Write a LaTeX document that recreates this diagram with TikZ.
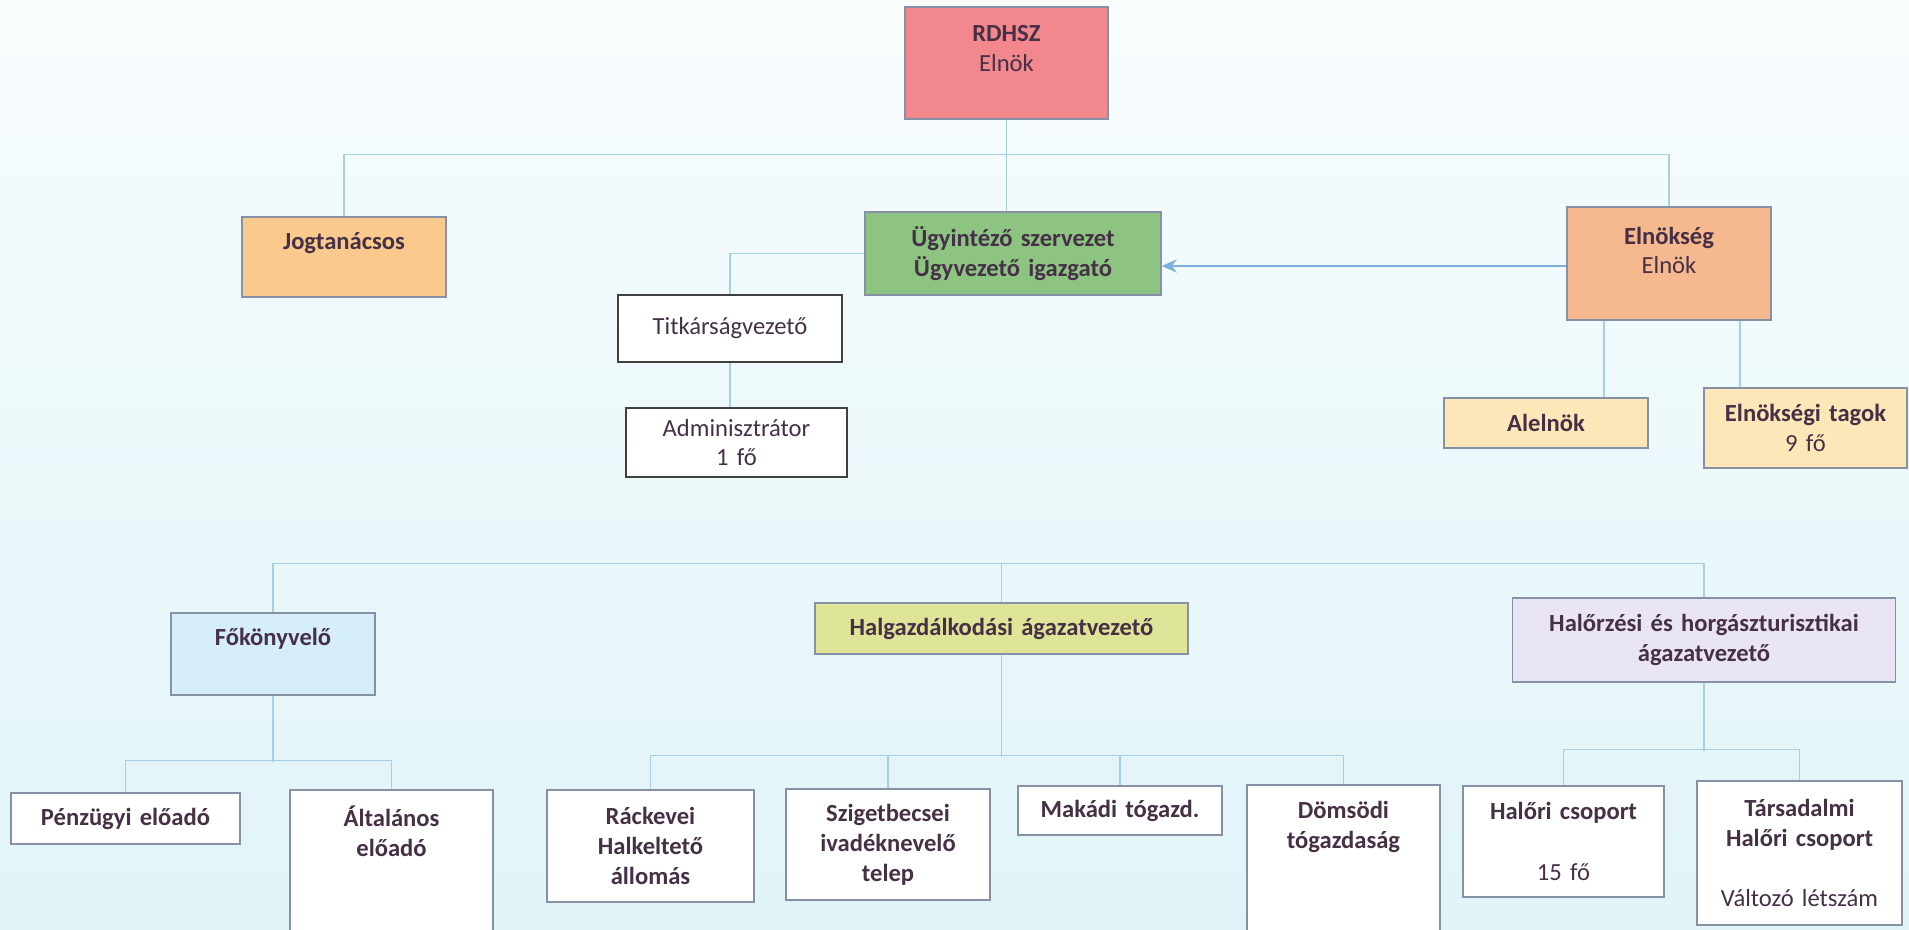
\documentclass[tikz,border=0pt]{standalone}
\usepackage{fontspec}
\setmainfont{Carlito}
\usetikzlibrary{positioning,arrows.meta}

\definecolor{bgtop}{RGB}{248,252,253}
\definecolor{bgbottom}{RGB}{224,244,248}
\definecolor{txt}{RGB}{70,48,70}
\definecolor{edge}{RGB}{135,145,165}
\definecolor{conn}{RGB}{165,208,232}
\definecolor{arrowblue}{RGB}{125,175,222}
\definecolor{rdhszred}{RGB}{242,135,142}
\definecolor{jogorange}{RGB}{249,201,142}
\definecolor{ugygreen}{RGB}{141,196,130}
\definecolor{elnpeach}{RGB}{246,184,142}
\definecolor{tagcream}{RGB}{253,230,184}
\definecolor{fokblue}{RGB}{214,238,250}
\definecolor{halyellow}{RGB}{222,228,152}
\definecolor{orlilac}{RGB}{233,229,244}

\begin{document}
\begin{tikzpicture}[node distance=1cm, auto]
    \tikzstyle{unit}=[rectangle, draw=edge, line width=0.8pt, text=txt, text width=3.6cm, align=center, inner sep=0.1cm, font=\fontsize{14}{17}\selectfont\bfseries]
    \tikzstyle{staff}=[unit, fill=white]
    \tikzstyle{office}=[unit, fill=white, draw=black!75, line width=1.6pt, font=\fontsize{14}{17}\selectfont]
    \tikzstyle{line}=[draw=conn, line width=0.8pt]
    \tikzstyle{arrow}=[->, >={Stealth[length=0.3cm, width=0.26cm]}, draw=arrowblue, fill=arrowblue, line width=1.2pt]

    % Background
    \fill[top color=bgtop, bottom color=bgbottom] (0,0) rectangle (38.18,-18.6);
    \useasboundingbox (0,0) rectangle (38.18,-18.6);

    % Top level
    \node[unit, fill=rdhszred, minimum width=4.06cm, minimum height=2.24cm] (rdhsz) at (20.13,-1.26) {RDHSZ\\\mdseries Elnök\par\vspace*{0.58cm}};
    \node[unit, fill=ugygreen, text width=5.6cm, minimum width=5.92cm, minimum height=1.66cm] (ugy) [below of=rdhsz, xshift=0.13cm, yshift=-2.81cm] {Ügyintéző szervezet\\Ügyvezető igazgató};
    \node[unit, fill=jogorange, minimum width=4.08cm, minimum height=1.6cm] (jog) [left of=ugy, xshift=-12.38cm, yshift=-0.07cm] {Jogtanácsos\par\vspace*{0.56cm}};
    \node[unit, fill=elnpeach, minimum width=4.08cm, minimum height=2.26cm] (elnokseg) [right of=ugy, xshift=12.12cm, yshift=-0.2cm] {Elnökség\\\mdseries Elnök\par\vspace*{0.52cm}};

    % Titkarsag
    \node[office, minimum width=4.48cm, minimum height=1.34cm] (titk) [below of=ugy, xshift=-5.66cm, yshift=-0.5cm] {Titkárságvezető};
    \node[office, minimum width=4.42cm, minimum height=1.38cm] (admin) [below of=titk, xshift=0.13cm, yshift=-1.28cm] {Adminisztrátor\\1 fő};

    % Elnokseg
    \node[unit, fill=tagcream, minimum width=4.08cm, minimum height=1cm] (alelnok) [below of=elnokseg, xshift=-2.46cm, yshift=-2.19cm] {Alelnök};
    \node[unit, fill=tagcream, minimum width=4.06cm, minimum height=1.6cm] (tagok) [right of=alelnok, xshift=4.19cm, yshift=-0.1cm] {Elnökségi tagok\\\mdseries 9 fő};

    % Agazatok
    \node[unit, fill=halyellow, text width=7.2cm, minimum width=7.46cm, minimum height=1.02cm] (halgaz) [below of=ugy, xshift=-0.23cm, yshift=-6.5cm] {Halgazdálkodási ágazatvezető};
    \node[unit, fill=fokblue, minimum width=4.08cm, minimum height=1.64cm] (fokonyv) [left of=halgaz, xshift=-13.57cm, yshift=-0.51cm] {Főkönyvelő\par\vspace*{0.6cm}};
    \node[unit, fill=orlilac, text width=7.3cm, minimum width=7.66cm, minimum height=1.68cm] (halorz) [right of=halgaz, xshift=13.05cm, yshift=-0.23cm] {Halőrzési és horgászturisztikai\\ágazatvezető};

    % Bottom row
    \node[staff, minimum width=4.58cm, minimum height=1.02cm] (penz) [below of=fokonyv, xshift=-2.95cm, yshift=-2.29cm] {Pénzügyi előadó};
    \node[staff, minimum width=4.06cm, minimum height=2.88cm] (altal) [right of=penz, xshift=4.32cm, yshift=-0.87cm] {Általános\\előadó\par\vspace*{1.24cm}};
    \node[staff, minimum width=4.14cm, minimum height=2.24cm] (rack) [below of=halgaz, xshift=-7.02cm, yshift=-3.35cm] {Ráckevei\\Halkeltető\\állomás};
    \node[staff, minimum width=4.08cm, minimum height=2.22cm] (sziget) [right of=rack, xshift=3.75cm, yshift=0.03cm] {Szigetbecsei\\ivadéknevelő\\telep};
    \node[staff, minimum width=4.08cm, minimum height=0.98cm] (makadi) [right of=sziget, xshift=3.64cm, yshift=0.68cm] {Makádi tógazd.};
    \node[staff, text width=3.5cm, minimum width=3.86cm, minimum height=2.98cm] (doms) [right of=makadi, xshift=3.47cm, yshift=-0.98cm] {Dömsödi\\tógazdaság\par\vspace*{1.3cm}};
    \node[staff, minimum width=4.02cm, minimum height=2.22cm] (halori) [below of=halorz, xshift=-2.81cm, yshift=-3.03cm] {Halőri csoport\\[0.64cm]\mdseries 15 fő};
    \node[staff, minimum width=4.1cm, minimum height=2.88cm] (tars) [right of=halori, xshift=3.72cm, yshift=-0.23cm] {Társadalmi\\Halőri csoport\\[0.62cm]\mdseries Változó létszám};

    % Connectors
    \draw[line] (rdhsz.south) -- (rdhsz.south |- ugy.north);
    \draw[line] (jog.north) -- ++(0,1.24) -| (elnokseg.north);
    \draw[arrow] ([yshift=-0.05cm]elnokseg.west) -- ([yshift=-0.05cm]elnokseg.west -| ugy.east);
    \draw[line] (ugy.west) -| (titk.north);
    \draw[line] (titk.south) -- (titk.south |- admin.north);
    \draw[line] ([xshift=-1.3cm]elnokseg.south) -- ([xshift=-1.3cm]elnokseg.south |- alelnok.north);
    \draw[line] ([xshift=1.42cm]elnokseg.south) -- ([xshift=1.42cm]elnokseg.south |- tagok.north);

    \draw[line] (fokonyv.north) -- ++(0,0.98) -| (halorz.north);
    \draw[line] (halgaz.north) -- ++(0,0.78);

    \draw[line] (fokonyv.south) -- ++(0,-1.32);
    \draw[line] (penz.north) -- ++(0,0.64) -| (altal.north);
    \draw[line] (halgaz.south) -- ++(0,-2.04);
    \draw[line] (rack.north) -- ++(0,0.68) -| (doms.north);
    \draw[line] (sziget.north) -- ++(0,0.66);
    \draw[line] (makadi.north) -- ++(0,0.6);
    \draw[line] (halorz.south) -- ++(0,-1.36);
    \draw[line] (halori.north) -- ++(0,0.72) -| (tars.north);
\end{tikzpicture}
\end{document}
